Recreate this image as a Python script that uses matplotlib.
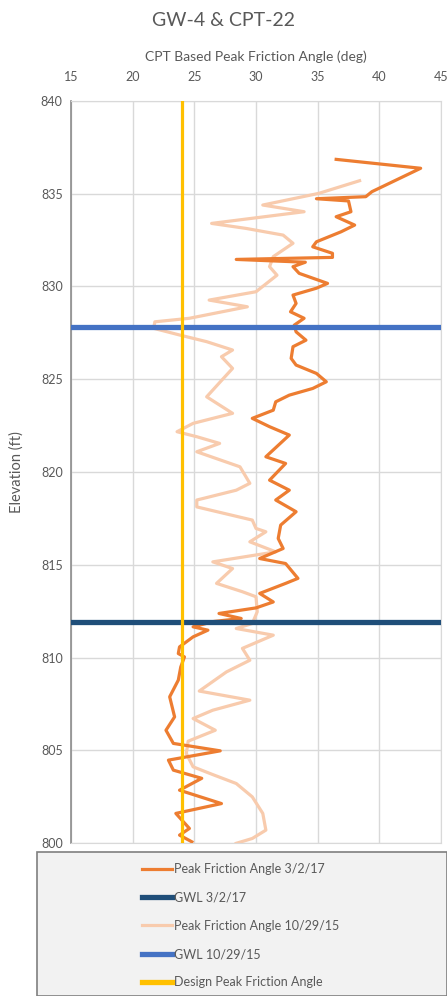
import matplotlib.pyplot as plt
from matplotlib.patches import Rectangle
from matplotlib.lines import Line2D

# Peak friction angle 3/2/17 (elevation ft, angle deg)
elev_17 = [836.84, 836.36, 835.1, 834.83, 834.72, 834.6, 834.02, 833.75, 833.3, 832.94,
           832.4, 832.13, 831.78, 831.56, 831.45, 831.3, 831.06, 830.7, 830.16, 829.9,
           829.53, 829.08, 828.63, 828.28, 827.91, 827.55, 827.1, 826.75, 826.12, 825.76,
           825.31, 824.86, 824.5, 824.14, 823.78, 823.33, 822.89, 822.44, 821.99, 820.82,
           820.46, 819.56, 819.02, 818.49, 817.86, 817.14, 816.42, 815.88, 815.34, 815.07,
           814.27, 814.0, 813.46, 813.0, 812.68, 812.38, 812.11, 811.95, 811.66, 811.48,
           811.12, 810.58, 810.22, 810.04, 809.5, 808.79, 807.89, 806.81, 806.09, 805.38,
           804.98, 804.48, 803.94, 803.5, 802.86, 802.14, 801.61, 800.8, 800.44, 800.08]
phi_17 = [36.5, 43.35, 39.4, 38.9, 34.9, 37.5, 37.7, 36.5, 38.0, 36.9,
          34.9, 34.6, 36.2, 36.2, 28.4, 34.0, 33.0, 33.5, 35.8, 34.9,
          33.0, 33.25, 32.8, 33.9, 33.1, 33.25, 34.05, 33.0, 32.85, 33.25,
          34.9, 35.7, 34.6, 32.7, 31.6, 31.4, 29.7, 31.1, 32.7, 30.8,
          32.4, 31.1, 32.7, 31.6, 33.25, 32.0, 31.8, 32.2, 30.3, 32.4,
          33.4, 32.4, 30.3, 31.4, 30.0, 27.0, 28.8, 26.6, 24.9, 26.1,
          24.9, 23.8, 23.7, 24.2, 23.9, 23.7, 23.0, 23.4, 22.7, 23.3,
          27.1, 22.9, 23.3, 25.6, 23.8, 27.2, 23.5, 24.6, 23.8, 24.8]

# Peak friction angle 10/29/15
elev_15 = [835.69, 835.01, 834.38, 834.02, 833.39, 833.12, 832.76, 832.32, 831.6, 831.06,
           830.6, 829.71, 829.26, 828.9, 828.28, 828.09, 827.74, 827.38, 827.02, 826.57,
           826.21, 825.58, 825.0, 824.05, 823.16, 822.62, 822.17, 821.9, 821.54, 821.09,
           820.28, 819.39, 819.02, 818.49, 818.12, 817.41, 816.96, 816.78, 816.24, 815.7,
           815.16, 814.8, 814.0, 813.55, 813.28, 812.47, 811.84, 811.57, 811.21, 810.5,
           809.86, 809.23, 808.2, 807.71, 807.17, 806.72, 806.09, 805.5, 804.84, 804.12,
           803.7, 803.22, 802.5, 801.61, 800.71, 800.26, 800.0]
phi_15 = [38.4, 35.1, 30.55, 33.9, 26.4, 29.2, 32.2, 33.0, 31.4, 31.1,
          31.7, 30.0, 26.2, 29.3, 24.6, 21.8, 21.7, 23.8, 26.0, 28.1,
          27.2, 28.1, 27.3, 26.0, 28.1, 24.9, 23.6, 25.2, 27.05, 25.2,
          28.7, 29.5, 28.4, 25.2, 25.2, 29.7, 30.0, 30.8, 29.5, 31.6,
          26.5, 28.1, 26.8, 28.9, 30.0, 30.1, 29.7, 28.4, 31.4, 28.9,
          29.5, 27.6, 25.4, 29.5, 26.5, 24.9, 26.7, 24.5, 24.35, 24.9,
          26.5, 28.4, 29.7, 30.55, 30.8, 29.7, 28.4]

gwl_17 = 811.9
gwl_15 = 827.8
design_phi = 24
x_ticks = [15, 20, 25, 30, 35, 40, 45]
y_ticks = [800, 805, 810, 815, 820, 825, 830, 835, 840]

plt.rcParams['font.family'] = ['Lato', 'DejaVu Sans']
txt = '#595959'

fig = plt.figure(figsize=(4.47, 9.96), dpi=100)
ax = fig.add_axes([71/447, 1-843.3/996, 370/447, 742.6/996])

ax.plot(phi_15, elev_15, color='#F8CBAD', lw=2.3, zorder=2, solid_joinstyle='round')
ax.plot(phi_17, elev_17, color='#ED7D31', lw=2.3, zorder=3, solid_joinstyle='round')
ax.plot([15, 45], [gwl_17, gwl_17], color='#1F4E79', lw=3.8, zorder=4)
ax.plot([15, 45], [gwl_15, gwl_15], color='#4472C4', lw=3.8, zorder=4)
ax.plot([design_phi, design_phi], [800, 840], color='#FFC000', lw=2.3, zorder=5)

ax.set_xlim(15, 45)
ax.set_ylim(800, 840)
ax.set_xticks(x_ticks)
ax.set_yticks(y_ticks)
ax.xaxis.tick_top()
ax.xaxis.set_label_position('top')
ax.tick_params(length=0, labelsize=9, labelcolor=txt, pad=6)
ax.tick_params(axis='x', pad=13)
ax.grid(color='#d9d9d9', lw=1)
ax.set_axisbelow(True)
for s in ax.spines.values():
    s.set_color('#d9d9d9')
ax.spines['left'].set_color('#8c8c8c')
ax.spines['left'].set_linewidth(1.2)
ax.set_xlabel('CPT Based Peak Friction Angle (deg)', fontsize=10, color=txt, labelpad=7)
ax.set_ylabel('Elevation (ft)', fontsize=10.5, color=txt, labelpad=12)
fig.text(0.5, 1-21/996, 'GW-4 & CPT-22', ha='center', va='center', fontsize=14, color=txt)

fig.patches.append(Rectangle((37/447, 0), 410/447, 144/996, transform=fig.transFigure,
                             facecolor='#f2f2f2', edgecolor='#7f7f7f', lw=1.2))
handles = [Line2D([], [], color='#ED7D31', lw=2.3),
           Line2D([], [], color='#1F4E79', lw=3.8),
           Line2D([], [], color='#F8CBAD', lw=2.3),
           Line2D([], [], color='#4472C4', lw=3.8),
           Line2D([], [], color='#FFC000', lw=3.8)]
labels = ['Peak Friction Angle 3/2/17', 'GWL 3/2/17', 'Peak Friction Angle 10/29/15',
          'GWL 10/29/15', 'Design Peak Friction Angle']
leg = fig.legend(handles, labels, loc='upper left', bbox_to_anchor=(131/447, 1-852/996),
                 frameon=False, fontsize=9, handlelength=2.4, handletextpad=0.1,
                 labelspacing=1.3, labelcolor=txt)

fig.savefig('out.png', dpi=100)
